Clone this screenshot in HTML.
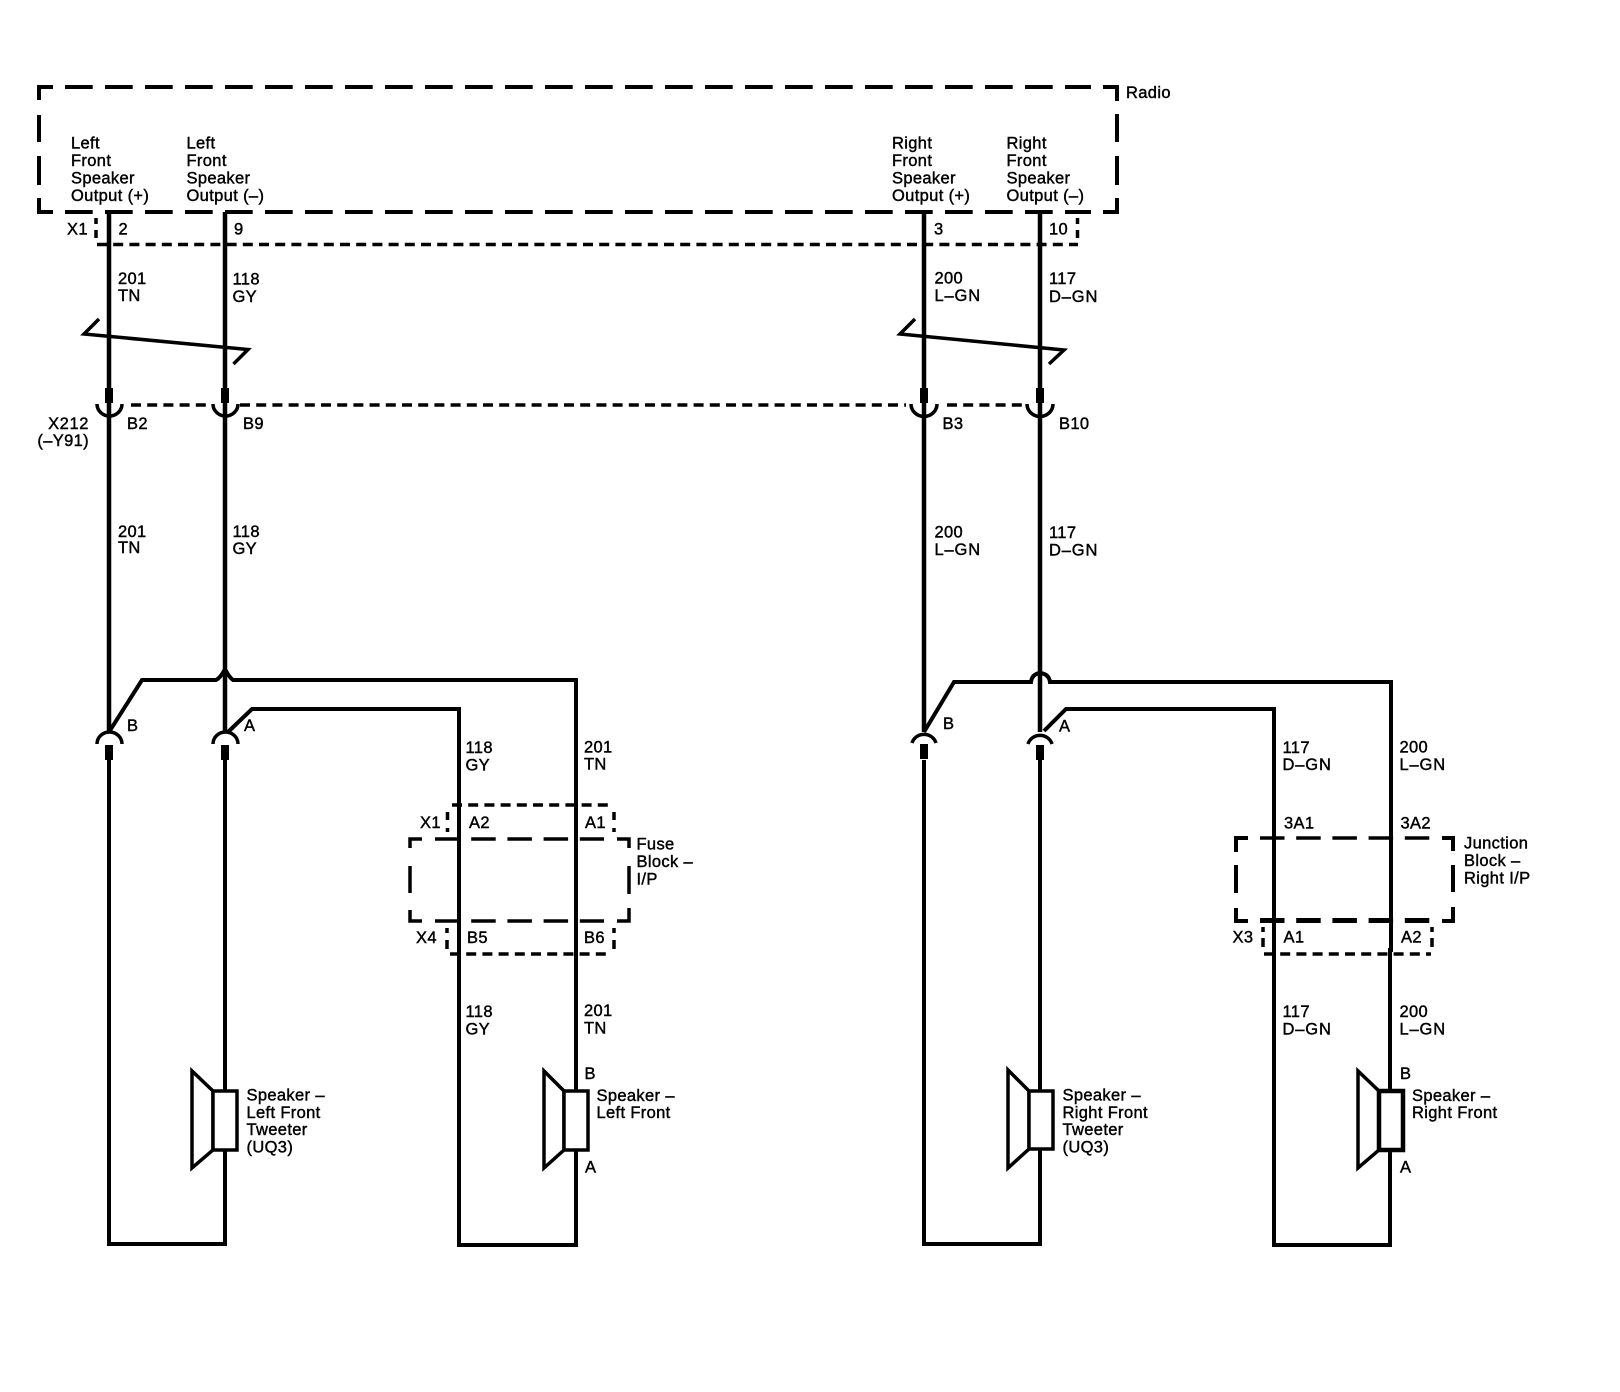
<!DOCTYPE html>
<html><head><meta charset="utf-8"><title>Front Speakers Wiring</title>
<style>
html,body{margin:0;padding:0;background:#fff}
svg{display:block}
text{font-family:"Liberation Sans",Arial,sans-serif;font-size:16.5px;letter-spacing:.35px;fill:#000;stroke:#000;stroke-width:.42px}
text.g{letter-spacing:.85px}
.w{fill:none;stroke:#000;stroke-width:4;stroke-linejoin:miter}
.b{fill:none;stroke:#000;stroke-width:4}
.t{fill:none;stroke:#000;stroke-width:3.5}
.c{fill:none;stroke:#000;stroke-width:3.5}
.d{fill:none;stroke:#000;stroke-width:3.5;stroke-dasharray:10 6.2}
.r{fill:none;stroke:#000;stroke-width:3.5;stroke-dasharray:24.5 11.7}
.s{fill:#fff;stroke:#000;stroke-width:3.5}
</style></head>
<body>
<svg width="1620" height="1392" viewBox="0 0 1620 1392" xmlns="http://www.w3.org/2000/svg">
<rect width="1620" height="1392" fill="#fff"/>

<!-- Radio box -->
<g class="b">
<path d="M39 100V87H53M1103 87H1117V101M39 198V212H53M1103 212H1117V198"/>
<path d="M65 87H1091" style="stroke-dasharray:27.7 12.3"/>
<path d="M65 212H1091" style="stroke-dasharray:27.7 12.3"/>
<path d="M39 115V142M39 156V185M1117 114V142M1117 156V185"/>
</g>

<!-- X1 connector -->
<path class="d" d="M97 244.5H1078"/>
<path class="c" d="M96 218V224M96 230V238M1077.5 218V224M1077.5 230V238"/>

<!-- Upper wires -->
<path class="w" style="stroke-width:4.5" d="M109 212V732M225 212V732M924 212V732M1040 212V732"/>

<!-- Twist symbols -->
<path class="t" d="M99 319L84 334L248 349.5L233.5 364"/>
<path class="t" d="M915 319L900 334L1064 350L1049 364"/>

<!-- X212 connector -->
<path class="d" d="M131 405H209M240 405H906M947 405H1022"/>
<g fill="#000">
<rect x="105" y="388" width="8" height="15"/><rect x="221" y="388" width="8" height="15"/>
<rect x="920" y="388" width="8" height="15"/><rect x="1036" y="388" width="8" height="15"/>
</g>
<path class="c" d="M97 404A12.5 12 0 0 0 122 404M213 404A12.5 12 0 0 0 238 404M911 404A12.5 12 0 0 0 937 404M1027 404A12.5 12 0 0 0 1053 404"/>

<!-- Left branches -->
<path class="w" d="M109 732L142 680H216Q220 678 224 671H226Q230 678 233 680H576V1245H459V709H252L228 732"/>
<path class="w" d="M109 760V1244H225V760"/>
<!-- Right branches -->
<path class="w" d="M924 732L954 682H1031Q1032 674 1040 673Q1049 674 1050 682H1391V950H1390V1245H1274V709H1066L1044 731"/>
<path class="w" d="M924 760V1244H1040V760"/>

<!-- Lower cups and plugs -->
<path class="c" d="M97 744A12.5 12 0 0 1 122 744M213 744A12.5 12 0 0 1 238 744M912 743A12.5 12 0 0 1 936 743M1028 744A12.5 12 0 0 1 1052 744"/>
<g fill="#000">
<rect x="105" y="745" width="8" height="15"/><rect x="221" y="745" width="8" height="15"/>
<rect x="920" y="744" width="8" height="15"/><rect x="1036" y="745" width="8" height="15"/>
</g>

<!-- Fuse block -->
<g class="t">
<path d="M422 839H410V848M410 866V893M410 910V921H422M617 839H629V848M629 866V894M629 908V921H617"/>
<path class="r" d="M435 839H604"/>
<path class="r" d="M435 921H604"/>
</g>
<path class="d" d="M452 805H612M450 954H612"/>
<path class="c" d="M447.5 812V820M447.5 828V832M614 812V820M614 828V832M447 928V933M447 940V949M614 928V933M614 940V949"/>

<!-- Junction block -->
<g class="b">
<path d="M1248 838H1236V852M1236 865V893M1236 908V921H1248M1442 838H1453V851M1453 865V892M1453 907V921H1442"/>
<path style="stroke-width:3.5;stroke-dasharray:24.5 11.7" d="M1260 838H1430"/>
<path style="stroke-width:5;stroke-dasharray:24.5 11.7" d="M1260 920.5H1430"/>
</g>
<path class="d" d="M1264 954H1431"/>
<path class="c" d="M1263 927V932M1263 938V947M1432 927V932M1432 938V947"/>

<!-- Speakers -->
<path class="s" d="M192 1071V1168L213 1150V1091Z"/><rect class="s" x="213" y="1091" width="24" height="59"/>
<path class="s" d="M544 1071V1168L564 1150V1091Z"/><rect class="s" x="564" y="1091" width="24" height="59"/>
<path class="s" d="M1008 1070V1168L1029 1149V1091Z"/><rect class="s" x="1029" y="1091" width="24" height="58"/>
<path class="s" d="M1358 1071V1168L1379 1150V1091Z"/><rect class="s" x="1379" y="1091" width="24" height="59" style="stroke-width:4.5"/>

<!-- Radio labels -->
<text x="1126" y="98">Radio</text>
<text x="71" y="148.5">Left</text><text x="71" y="166">Front</text><text x="71" y="183.5">Speaker</text><text x="71" y="201">Output (+)</text>
<text x="186.5" y="148.5">Left</text><text x="186.5" y="166">Front</text><text x="186.5" y="183.5">Speaker</text><text x="186.5" y="201">Output (–)</text>
<text x="892" y="148.5">Right</text><text x="892" y="166">Front</text><text x="892" y="183.5">Speaker</text><text x="892" y="201">Output (+)</text>
<text x="1006.5" y="148.5">Right</text><text x="1006.5" y="166">Front</text><text x="1006.5" y="183.5">Speaker</text><text x="1006.5" y="201">Output (–)</text>

<text x="67" y="234.5">X1</text><text x="118.5" y="234.5">2</text><text x="234" y="234.5">9</text><text x="934" y="234.5">3</text><text x="1049" y="234.5">10</text>

<text x="118" y="284">201</text><text x="118" y="301">TN</text>
<text x="232.5" y="284.5">118</text><text x="232.5" y="302">GY</text>
<text x="934.5" y="283.5">200</text><text class="g" x="934.5" y="301">L–GN</text>
<text x="1049" y="284">117</text><text class="g" x="1049" y="302">D–GN</text>

<text x="89" y="429" text-anchor="end" style="letter-spacing:.6px">X212</text><text x="89" y="446" text-anchor="end">(–Y91)</text>
<text x="127" y="429">B2</text><text x="243" y="429">B9</text><text x="942.5" y="429">B3</text><text x="1059" y="429">B10</text>

<text x="118" y="537">201</text><text x="118" y="553">TN</text>
<text x="232.5" y="537">118</text><text x="232.5" y="554">GY</text>
<text x="934.5" y="537.5">200</text><text class="g" x="934.5" y="555">L–GN</text>
<text x="1049" y="538">117</text><text class="g" x="1049" y="555.5">D–GN</text>

<text x="127" y="731">B</text><text x="244" y="731">A</text><text x="943" y="729">B</text><text x="1059" y="731.5">A</text>

<text x="465.5" y="753">118</text><text x="465.5" y="770.5">GY</text>
<text x="584" y="752.5">201</text><text x="584" y="769.5">TN</text>
<text x="1282.5" y="753">117</text><text class="g" x="1282.5" y="770">D–GN</text>
<text x="1399.5" y="752.5">200</text><text class="g" x="1399.5" y="770">L–GN</text>

<text x="420" y="828">X1</text><text x="469" y="828">A2</text><text x="585" y="828">A1</text>
<text x="636.5" y="849.5">Fuse</text><text x="636.5" y="867">Block –</text><text x="636.5" y="884.5">I/P</text>
<text x="416" y="943">X4</text><text x="467" y="943">B5</text><text x="584" y="943">B6</text>

<text x="1284" y="828.5">3A1</text><text x="1400.5" y="828.5">3A2</text>
<text x="1464" y="848.5">Junction</text><text x="1464" y="866">Block –</text><text x="1464" y="883.5">Right I/P</text>
<text x="1232.5" y="942.5">X3</text><text x="1283.5" y="942.5">A1</text><text x="1401" y="942.5">A2</text>

<text x="465.5" y="1017">118</text><text x="465.5" y="1034.5">GY</text>
<text x="584" y="1016">201</text><text x="584" y="1033.5">TN</text>
<text x="1282.5" y="1017">117</text><text class="g" x="1282.5" y="1034.5">D–GN</text>
<text x="1399.5" y="1017">200</text><text class="g" x="1399.5" y="1034.5">L–GN</text>

<text x="584.5" y="1079">B</text><text x="585" y="1172.5">A</text>
<text x="1400" y="1079">B</text><text x="1400" y="1172.5">A</text>

<text x="246.5" y="1100.5">Speaker –</text><text x="246.5" y="1118">Left Front</text><text x="246.5" y="1135">Tweeter</text><text x="246.5" y="1152.5">(UQ3)</text>
<text x="596.5" y="1101">Speaker –</text><text x="596.5" y="1118">Left Front</text>
<text x="1062.5" y="1100.5">Speaker –</text><text x="1062.5" y="1118">Right Front</text><text x="1062.5" y="1135">Tweeter</text><text x="1062.5" y="1152.5">(UQ3)</text>
<text x="1412" y="1101">Speaker –</text><text x="1412" y="1118">Right Front</text>
</svg>
</body></html>
